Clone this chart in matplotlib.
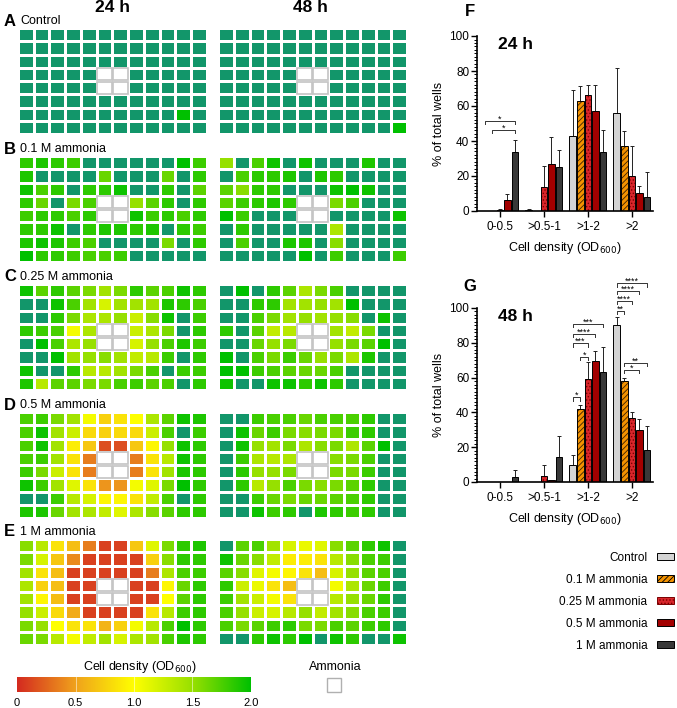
import numpy as np
import matplotlib
matplotlib.use('Agg')
import matplotlib.pyplot as plt
from matplotlib.colors import LinearSegmentedColormap
from matplotlib.patches import Rectangle, Patch

plt.rcParams['font.family'] = ['Liberation Sans', 'DejaVu Sans']
plt.rcParams['hatch.linewidth'] = 0.6

W = np.nan   # ammonia well
T = 2.5      # OD600 above 2

ctrl_24 = [
    [T, T, T, T, T, T, T, T, T, T, T, T],
    [T, T, T, T, T, T, T, T, T, T, T, T],
    [T, T, T, T, T, T, T, T, T, T, T, T],
    [T, T, T, T, T, W, W, T, T, T, T, T],
    [T, T, T, T, T, W, W, T, T, T, T, T],
    [T, T, T, T, T, T, T, T, T, T, T, T],
    [T, T, T, T, T, T, T, T, T, T, 2.0, T],
    [T, T, T, T, T, T, T, T, T, T, T, T]]
ctrl_48 = [
    [T, T, T, T, T, T, T, T, T, T, T, T],
    [T, T, T, T, T, T, T, T, T, T, T, T],
    [T, T, T, T, T, T, T, T, T, T, T, T],
    [T, T, T, T, T, W, W, T, T, T, T, T],
    [T, T, T, T, T, W, W, T, T, T, T, T],
    [T, T, T, T, T, T, T, T, T, T, T, T],
    [T, T, T, T, T, T, T, T, T, T, T, T],
    [T, T, T, T, T, T, T, T, T, T, T, 2.0]]
m01_24 = [
    [1.85, 1.9, 1.85, 1.8, T, T, T, T, T, T, 2.0, 1.8],
    [1.9, T, T, T, T, 1.65, T, T, T, 1.65, T, 1.85],
    [1.95, 1.75, 1.85, T, 1.85, 1.85, 1.95, T, T, 1.85, T, 1.7],
    [1.85, 1.65, T, 1.6, 1.75, W, W, 1.5, 1.7, 1.85, T, 1.85],
    [1.8, 1.85, 1.85, 1.75, 1.85, W, W, 1.95, 1.8, 1.85, 1.75, 1.85],
    [1.85, 1.85, 1.95, T, 1.85, 1.9, 1.9, 1.85, 1.9, T, 1.85, 1.8],
    [1.9, 1.95, 1.9, 1.8, 1.75, T, T, T, T, 1.6, T, 1.85],
    [2.0, 1.85, 1.85, 1.8, 1.75, 1.75, 1.8, T, T, T, T, T]]
m01_48 = [
    [1.5, T, 1.75, 1.95, T, 1.95, T, T, T, 1.9, T, T],
    [T, 1.75, 1.85, 1.85, 1.9, T, 1.9, 1.85, T, T, T, T],
    [1.7, 1.55, 1.85, 1.85, T, T, T, 1.95, 2.0, 1.95, T, T],
    [1.7, 1.8, 1.85, 1.9, 1.85, W, W, 1.6, 1.75, T, T, T],
    [2.0, 1.8, T, T, T, W, W, T, T, T, T, 1.95],
    [T, 1.85, T, T, T, T, T, 1.4, T, T, T, T],
    [T, 1.75, T, T, 1.9, 1.9, T, 1.55, T, T, T, T],
    [T, T, T, T, T, 2.0, T, 1.8, T, T, T, 1.8]]
m025_24 = [
    [1.95, 1.7, 1.85, 1.7, 1.6, 1.45, 1.6, 1.85, 1.7, 1.75, 1.95, 1.85],
    [T, T, 1.95, 1.75, 1.45, 1.2, 1.45, 1.45, 1.45, 1.9, 1.85, 1.75],
    [T, T, 1.85, 1.6, 1.4, 1.4, 1.5, 1.25, 1.55, 1.95, T, 1.8],
    [1.85, 1.8, 1.75, 1.05, 1.4, W, W, 1.25, 1.4, 1.6, T, 1.85],
    [T, 2.0, 1.75, 1.4, 1.5, W, W, 1.2, 1.5, 1.75, 1.9, 1.8],
    [T, T, 2.0, 1.45, 1.5, 1.55, 1.45, 1.3, 1.35, 1.8, T, 1.85],
    [1.95, T, T, 1.85, 1.35, 1.35, 1.45, 1.6, 1.75, T, 1.8, 1.8],
    [1.9, 1.35, 1.7, 1.7, 1.6, 1.6, 1.75, 1.8, 1.7, 1.75, T, 1.85]]
m025_48 = [
    [T, 2.0, T, 1.85, 1.7, 1.4, 1.6, 1.75, T, T, T, T],
    [T, T, 1.85, 1.85, 1.45, 1.45, 1.5, 1.45, 2.0, T, T, T],
    [T, T, 1.75, 1.6, 1.45, 1.5, 1.45, 1.5, 1.55, T, 1.95, T],
    [1.85, T, 1.7, 1.3, 1.35, W, W, 1.45, 1.3, 1.6, T, T],
    [T, T, 1.65, 1.5, 1.6, W, W, 1.5, 1.6, 1.7, 2.0, T],
    [2.0, T, 1.75, 1.6, 1.8, 1.65, 1.5, 1.6, 1.4, 1.9, T, T],
    [2.0, 2.0, 1.8, 1.75, 1.7, 1.65, 1.65, 1.75, T, T, T, T],
    [1.95, T, T, 1.95, 1.95, 1.85, 1.95, 1.85, T, T, T, T]]
m05_24 = [
    [1.75, 1.8, 1.6, 1.45, 1.05, 0.75, 0.85, 1.0, 1.4, 1.7, 1.95, 1.9],
    [1.75, 1.95, 1.45, 1.25, 0.8, 0.75, 0.8, 0.8, 1.25, 1.75, T, 1.8],
    [1.75, 1.95, 1.45, 0.9, 0.7, 0.15, 0.15, 0.7, 0.95, 1.5, 1.95, 1.85],
    [1.75, 1.8, 1.45, 0.85, 0.35, W, W, 0.35, 0.85, 1.35, 1.95, 1.85],
    [1.8, 1.6, 1.25, 0.85, 0.35, W, W, 0.35, 0.85, 1.45, 1.9, 1.85],
    [1.95, 1.8, 1.45, 1.15, 0.85, 0.45, 0.45, 1.05, 1.15, 1.6, 2.0, 1.85],
    [T, T, 1.8, 1.35, 1.2, 0.95, 0.95, 0.85, 1.3, 1.75, T, 1.85],
    [1.9, 1.9, 1.65, 1.45, 1.4, 1.3, 1.15, 1.4, 1.55, 1.7, 1.85, 1.85]]
m05_48 = [
    [T, T, 1.8, 1.75, 1.75, 1.65, 1.75, 1.75, 1.75, 1.85, T, T],
    [T, 1.95, 1.65, 1.8, 1.6, 1.55, 1.6, 1.6, 1.8, 1.85, T, T],
    [T, 1.95, 1.5, 1.45, 1.6, 1.4, 1.55, 1.6, 1.4, 1.7, 2.0, T],
    [T, 1.8, 1.4, 1.35, 1.4, W, W, 1.55, 1.6, 1.75, T, T],
    [T, 1.85, 1.5, 1.5, 1.6, W, W, 1.6, 1.6, 1.8, T, T],
    [T, 1.85, 1.35, 1.5, 1.75, 1.6, 1.55, 1.6, 1.7, 1.85, T, T],
    [T, T, 1.8, 1.65, 1.6, 1.65, 1.65, 1.7, 1.75, 1.85, T, T],
    [T, T, 1.95, 1.8, 1.85, T, 1.9, 1.85, 1.8, 1.85, T, T]]
m1_24 = [
    [1.55, 1.35, 0.85, 0.65, 0.35, 0.1, 0.1, 0.7, 1.15, 1.6, 1.85, 1.9],
    [1.6, 1.2, 0.7, 0.4, 0.1, 0.1, 0.1, 0.1, 0.75, 1.55, 1.85, 1.85],
    [1.45, 0.85, 0.65, 0.1, 0.1, 0.1, 0.1, 0.1, 0.35, 1.4, 1.75, 1.8],
    [1.4, 0.75, 0.65, 0.1, 0.1, W, W, 0.1, 0.1, 0.95, 1.65, 1.85],
    [1.45, 0.95, 0.65, 0.1, 0.1, W, W, 0.1, 0.1, 1.0, 1.7, 1.85],
    [1.5, 1.25, 0.8, 0.55, 0.1, 0.1, 0.1, 0.1, 0.85, 1.35, 1.8, 1.85],
    [1.6, 1.5, 1.0, 0.85, 0.85, 0.6, 0.75, 1.05, 1.35, 1.75, 2.0, 1.85],
    [1.65, 1.6, 1.35, 1.05, 1.3, 1.45, 1.2, 1.4, 1.45, 1.75, 1.9, 1.85]]
m1_48 = [
    [T, 1.7, 1.75, 1.45, 1.2, 1.1, 1.15, 1.55, 1.7, 1.85, 1.95, T],
    [1.95, 1.65, 1.55, 1.3, 0.9, 0.9, 0.85, 1.35, 1.55, 1.75, 1.8, T],
    [1.7, 1.55, 1.15, 1.05, 0.95, 0.85, 0.65, 1.2, 1.5, 1.7, 1.75, T],
    [1.85, 1.25, 1.1, 0.85, 0.65, W, W, 1.05, 1.4, 1.65, 1.8, T],
    [1.8, 1.45, 1.25, 1.05, 0.85, W, W, 1.35, 1.5, 1.65, 1.85, T],
    [1.75, 1.5, 1.25, 1.2, 1.35, 1.5, 1.3, 1.45, 1.55, 1.75, 1.8, T],
    [1.75, 1.6, 1.7, 1.8, 1.85, 1.6, 1.6, 1.75, 1.7, 1.8, 1.85, T],
    [T, T, 1.85, 1.95, 1.85, 2.0, T, 1.95, 1.85, T, T, 1.95]]

row_labels = ['Control', '0.1 M ammonia', '0.25 M ammonia', '0.5 M ammonia', '1 M ammonia']
panel_letters = ['A', 'B', 'C', 'D', 'E']
plates = [(ctrl_24, ctrl_48), (m01_24, m01_48), (m025_24, m025_48),
          (m05_24, m05_48), (m1_24, m1_48)]
cbar_ticks = [0, 0.5, 1.0, 1.5, 2.0]
cbar_ticklabels = ['0', '0.5', '1.0', '1.5', '2.0']

# bar chart data
groups = ['0-0.5', '>0.5-1', '>1-2', '>2']
conditions = ['Control', '0.1 M ammonia', '0.25 M ammonia', '0.5 M ammonia', '1 M ammonia']
mean_24 = [[0, 0.5, 43, 56],
           [0, 0, 63, 37],
           [0.3, 13.5, 66, 20],
           [6.5, 27, 57, 10],
           [33.5, 25, 33.5, 8]]
err_24 = [[0, 0.8, 26, 25.5],
          [0, 0, 8.5, 8.5],
          [0.8, 12, 6, 17],
          [3, 15, 15, 4],
          [7, 10, 13, 14]]
mean_48 = [[0, 0, 10, 90],
           [0, 0, 42, 58],
           [0, 3.5, 59, 37],
           [0, 1, 69.5, 30],
           [3, 14.5, 63.5, 18.5]]
err_48 = [[0, 0, 5.5, 5],
          [0, 0, 2, 2],
          [0, 6.5, 10, 3.5],
          [0, 0.3, 6, 6],
          [4, 12, 14, 13.5]]
# significance: (group, bar_a, bar_b, height, label)
sig_24 = [(0, 0, 4, 51.5, '*'), (0, 1, 4, 46.5, '*')]
sig_48 = [(2, 0, 1, 48.7, '*'), (2, 1, 2, 72, '*'), (2, 0, 2, 79.7, '***'),
          (2, 0, 3, 85.2, '****'), (2, 0, 4, 90.8, '***'),
          (3, 0, 1, 98.4, '**'), (3, 0, 2, 104.3, '****'), (3, 0, 3, 110, '****'),
          (3, 0, 4, 114.3, '****'), (3, 1, 4, 68.6, '**'), (3, 1, 3, 64.4, '*')]

bar_face = ['#d4d4d4', '#f39200', '#d8262b', '#a30000', '#383838']
bar_hatch = [None, '//////', '.....', None, None]
hatch_col = ['black', '#3a2000', '#7a0000', 'black', 'black']

FW, FH = 677, 708
fig = plt.figure(figsize=(FW / 100, FH / 100), dpi=100)


def px_axes(x0, y0, x1, y1):
    return fig.add_axes([x0 / FW, 1 - y1 / FH, (x1 - x0) / FW, (y1 - y0) / FH])


def fx(x):
    return x / FW


def fy(y):
    return 1 - y / FH


cmap = LinearSegmentedColormap.from_list(
    'od', [(0, '#d42a20'), (0.25, '#f0a21c'), (0.5, '#ffff00'),
           (0.75, '#98e000'), (1.0, '#00c000')])
cmap.set_over('#12966a')
cmap.set_bad('white')

tops = [28, 156, 284, 412, 539]
cols = [(18, 207), (218, 407)]
for i, (pair, lab, let) in enumerate(zip(plates, row_labels, panel_letters)):
    top = tops[i]
    fig.text(fx(4), fy(top - 7), let, fontsize=12, fontweight='bold', va='center', ha='left')
    fig.text(fx(20), fy(top - 7), lab, fontsize=9, va='center', ha='left')
    for j, arr in enumerate(pair):
        a = np.array(arr, dtype=float)
        x0, x1 = cols[j]
        ax = px_axes(x0, top, x1, top + 106)
        ax.pcolormesh(np.ma.masked_invalid(a), cmap=cmap, vmin=0, vmax=2,
                      edgecolors='white', linewidth=0.75)
        for r in range(a.shape[0]):
            for c in range(a.shape[1]):
                if np.isnan(a[r, c]):
                    ax.add_patch(Rectangle((c + 0.04, r + 0.05), 0.92, 0.9, fill=False,
                                           edgecolor='#c4c4c4', lw=1.2))
        ax.set_xlim(0, a.shape[1])
        ax.set_ylim(a.shape[0], 0)
        ax.axis('off')

fig.text(fx(113), fy(8), '24 h', fontsize=12.5, fontweight='bold', ha='center', va='center')
fig.text(fx(310), fy(8), '48 h', fontsize=12.5, fontweight='bold', ha='center', va='center')

# colour bar
cax = px_axes(17, 677, 251, 692)
grad = np.linspace(0, 2, 512).reshape(1, -1)
cax.imshow(grad, cmap=cmap, vmin=0, vmax=2, aspect='auto', extent=(0, 2, 0, 1))
for t in cbar_ticks[1:-1]:
    cax.axvline(t, color='white', lw=0.6, alpha=0.6)
cax.set_xlim(0, 2)
cax.axis('off')
for t, tl in zip(cbar_ticks, cbar_ticklabels):
    fig.text(fx(17 + t / 2 * 234), fy(703), tl, fontsize=8, ha='center', va='center')
fig.text(fx(140), fy(667), 'Cell density (OD$_{600}$)', fontsize=9, ha='center', va='center')
fig.text(fx(335), fy(667), 'Ammonia', fontsize=9, ha='center', va='center')
fig.add_artist(Rectangle((fx(327), fy(692)), fx(14), 14 / FH, fill=False,
                         edgecolor='#b0b0b0', lw=1.0, transform=fig.transFigure))


def bar_panel(ax, mean, err, sigs, title):
    n = len(conditions)
    slot = 0.172
    bw = 0.15
    xg = np.arange(len(groups))
    for k in range(n):
        xs = xg + (k - 2) * slot
        m = np.array(mean[k], dtype=float)
        e = np.array(err[k], dtype=float)
        if bar_hatch[k]:
            ax.bar(xs, m, bw, color=bar_face[k], edgecolor=hatch_col[k], hatch=bar_hatch[k], lw=0, zorder=2)
            ax.bar(xs, m, bw, fill=False, edgecolor='black', lw=0.7, zorder=3)
        else:
            ax.bar(xs, m, bw, color=bar_face[k], edgecolor='black', lw=0.7, zorder=2)
        show = (m > 0) | (e > 0)
        ax.errorbar(xs[show], m[show], yerr=[np.zeros(show.sum()), e[show]], fmt='none',
                    ecolor='#222222', elinewidth=0.7, capsize=1.6, capthick=0.7, zorder=1)
    for g, a, b, h, lab in sigs:
        xa = g + (a - 2) * slot
        xb = g + (b - 2) * slot
        ax.plot([xa, xa, xb, xb], [h - 2, h, h, h - 2], color='#333333', lw=0.7, clip_on=False)
        ax.text((xa + xb) / 2, h - 1.6, lab, ha='center', va='bottom', fontsize=6.5, clip_on=False)
    ax.set_xlim(-0.52, 3.48)
    ax.set_ylim(0, 100)
    ax.set_yticks([0, 20, 40, 60, 80, 100])
    ax.set_yticks(np.arange(0, 101, 2), minor=True)
    ax.set_xticks(xg)
    ax.set_xticklabels(groups, fontsize=8.5)
    ax.tick_params(axis='y', labelsize=8.5, length=4, width=1, pad=1.5)
    ax.tick_params(axis='y', which='minor', length=2.2, width=0.7)
    ax.tick_params(axis='x', length=4, width=1)
    for s in ['top', 'right']:
        ax.spines[s].set_visible(False)
    for s in ['left', 'bottom']:
        ax.spines[s].set_linewidth(1.2)
    ax.set_ylabel('% of total wells', fontsize=9, labelpad=3)
    ax.set_xlabel('Cell density (OD$_{600}$)', fontsize=9, labelpad=5)
    ax.text(0.12, 0.95, title, transform=ax.transAxes, fontsize=12.5, fontweight='bold',
            ha='left', va='center')


axF = px_axes(477, 36, 653, 211)
bar_panel(axF, mean_24, err_24, sig_24, '24 h')
axG = px_axes(477, 308, 653, 482)
bar_panel(axG, mean_48, err_48, sig_48, '48 h')
fig.text(fx(470), fy(12), 'F', fontsize=12, fontweight='bold', ha='center', va='center')
fig.text(fx(470), fy(287), 'G', fontsize=12, fontweight='bold', ha='center', va='center')

handles = []
for k in range(len(conditions)):
    handles.append(Patch(facecolor=bar_face[k], edgecolor='black' if k != 2 else '#7a0000',
                         hatch=bar_hatch[k], lw=0.7))
fig.legend(handles, conditions, loc='upper right', bbox_to_anchor=(fx(679), fy(547)),
           frameon=False, markerfirst=False, fontsize=8.5, handlelength=1.5,
           handleheight=0.6, labelspacing=0.85, handletextpad=0.8, borderaxespad=0)

fig.savefig('out.png', dpi=100)
